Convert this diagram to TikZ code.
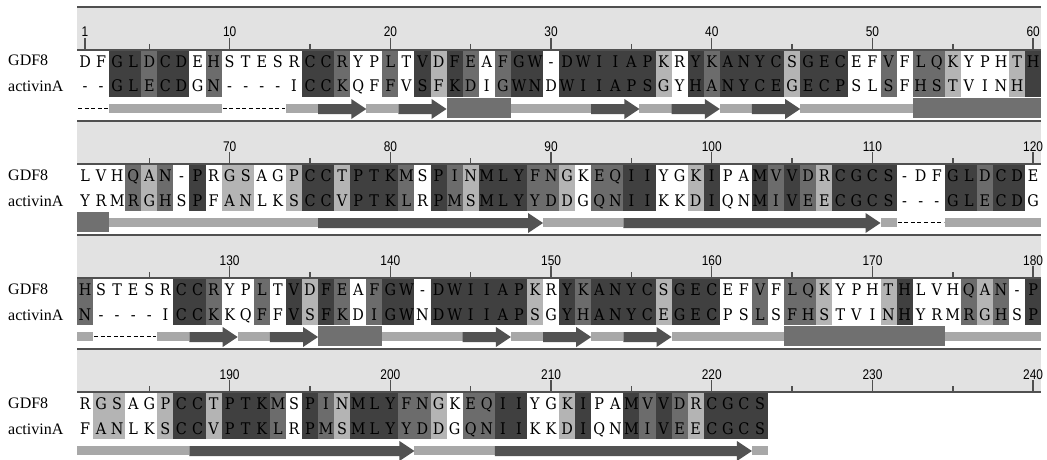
\documentclass[tikz,border=0pt]{standalone}
\usepackage{fontspec}
\usepackage{xstring}
\setmainfont{Liberation Serif}
\newfontfamily\resfont[FakeStretch=0.9]{DejaVu Serif}
\newfontfamily\numfont[FakeStretch=0.85]{Liberation Sans}

\definecolor{rulerbg}{HTML}{E2E2E2}
\definecolor{rulerln}{HTML}{505050}
\definecolor{lightsh}{HTML}{B4B4B4}
\definecolor{midsh}{HTML}{6C6C6C}
\definecolor{darksh}{HTML}{404040}
\definecolor{coilc}{HTML}{A8A8A8}
\definecolor{strandc}{HTML}{525252}
\definecolor{helixc}{HTML}{707070}

% sequences and conservation levels, 60 columns per block
\newcommand\gdfI{DFGLDCDEHSTESRCCRYPLTVDFEAFGW-DWIIAPKRYKANYCSGECEFVFLQKYPHTH}
\newcommand\actI{--GLECDGN----ICCKQFFVSFKDIGWNDWIIAPSGYHANYCEGECPSLSFHSTVINH}
\newcommand\shdI{003323302000003320020313202330333333103233331333002022100013}
\newcommand\gdfII{LVHQAN-PRGSAGPCCTPTKMSPINMLYFNGKEQIIYGKIPAMVVDRCGCS-DFGLDCDE}
\newcommand\actII{YRMRGHSPFANLKSCCVPTKLRPMSMLYYDDGQNIIKKDIQNMIVEECGCS---GLECDG}
\newcommand\shdII{000212030110013313332032133322102233001300323213333000332330}
\newcommand\gdfIII{HSTESRCCRYPLTVDFEAFGW-DWIIAPKRYKANYCSGECEFVFLQKYPHTHLVHQAN-P}
\newcommand\actIII{N----ICCKKQFFVSFKDIGWNDWIIAPSGYHANYCEGECPSLSFHSTVINHYRMRGHSP}
\newcommand\shdIII{200000332002031320233033333310323333133300202210001300021203}
\newcommand\gdfIV{RGSAGPCCTPTKMSPINMLYFNGKEQIIYGKIPAMVVDRCGCS}
\newcommand\actIV{FANLKSCCVPTKLRPMSMLYYDDGQNIIKKDIQNMIVEECGCS}
\newcommand\shdIV{0110013313332032133322102233001300323213333}

\begin{document}
\begin{tikzpicture}[
	x=1pt, y=-1pt,
	res/.style={font=\resfont\fontsize{16}{16}\selectfont, anchor=base, inner sep=0pt},
	seqname/.style={font=\fontsize{16}{16}\selectfont, anchor=base west, inner sep=0pt},
	num/.style={font=\numfont\fontsize{14}{14}\selectfont, anchor=base, inner sep=0pt},
	lvl0/.style={fill=white},
	lvl1/.style={fill=lightsh},
	lvl2/.style={fill=midsh},
	lvl3/.style={fill=darksh},
	rulertick/.style={draw=rulerln, line width=1.4pt},
	coil/.style={fill=coilc},
	strand/.style={fill=strandc},
	helix/.style={fill=helixc},
	gap/.style={draw=black, line width=1pt, dash pattern=on 4pt off 2.6pt}
]

\useasboundingbox[fill=white] (0,0) rectangle (1047,460);

% alignment blocks
\foreach \blk/\gdf/\act/\shd/\len in {0/\gdfI/\actI/\shdI/60, 1/\gdfII/\actII/\shdII/60,
		2/\gdfIII/\actIII/\shdIII/60, 3/\gdfIV/\actIV/\shdIV/43} {
	\pgfmathsetmacro\B{\blk*114}
	\fill[rulerbg] (77,{\B+7}) rectangle (1041,{\B+50});
	\draw[rulerln, line width=2.4pt] (77,{\B+7}) -- (1041,{\B+7});
	\draw[rulerln, line width=1.6pt] (77,{\B+50}) -- (1041,{\B+50});
	\foreach \c in {5,15,...,55}
		\draw[rulertick] ({77+(\c-0.5)*16.07},{\B+44}) -- ++(0,6);
	\foreach \c in {10,20,...,60} {
		\pgfmathtruncatemacro\n{\blk*60+\c}
		\draw[rulertick] ({77+(\c-0.5)*16.07},{\B+38}) -- ++(0,12);
		\node[num] (n\n) at ({77+(\c-0.5)*16.07},{\B+37}) {\n};
	}
	\node[seqname] (gdf\blk) at (8,{\B+66}) {GDF8};
	\node[seqname] (act\blk) at (8,{\B+92}) {activinA};
	\foreach \c in {1,...,\len} {
		\StrChar{\shd}{\c}[\lv]
		\fill[lvl\lv] ({77+(\c-1)*16.07},{\B+51}) rectangle ++(16.07,46);
		\StrChar{\gdf}{\c}[\ch]
		\node[res] (g\blk-\c) at ({77+(\c-0.5)*16.07},{\B+67}) {\ch};
		\StrChar{\act}{\c}[\ch]
		\node[res] (a\blk-\c) at ({77+(\c-0.5)*16.07},{\B+92}) {\ch};
	}
}
\draw[rulertick] (85,38) -- (85,50);
\node[num] (n1) at (85,37) {1};

% secondary structure
\foreach \blk/\a/\b in {0/3/9, 0/14/15, 0/19/20, 0/28/32, 0/36/37, 0/41/42, 0/46/52,
		1/3/15, 1/30/34, 1/51/51, 1/55/60,
		2/1/1, 2/6/7, 2/11/12, 2/20/24, 2/28/29, 2/33/34, 2/38/44, 2/55/60,
		3/1/7, 3/22/26, 3/43/43}
	\fill[coil] ({77+(\a-1)*16.07},{\blk*114+104}) rectangle ({77+\b*16.07},{\blk*114+113});
\foreach \blk/\a/\b in {0/24/27, 0/53/60, 1/1/2, 2/16/19, 2/45/54}
	\fill[helix] ({77+(\a-1)*16.07},{\blk*114+98}) rectangle ({77+\b*16.07},{\blk*114+118});
\foreach \blk/\a/\b in {0/16/18, 0/21/23, 0/33/35, 0/38/40, 0/43/45,
		1/16/29, 1/35/50,
		2/8/10, 2/13/15, 2/25/27, 2/30/32, 2/35/37,
		3/8/21, 3/27/42} {
	\pgfmathsetmacro\xa{77+(\a-1)*16.07}
	\pgfmathsetmacro\xb{77+\b*16.07}
	\pgfmathsetmacro\yb{\blk*114}
	\fill[strand] (\xa,{\yb+104}) -- ({\xb-15},{\yb+104}) -- ({\xb-15},{\yb+99})
		-- (\xb,{\yb+109}) -- ({\xb-15},{\yb+119}) -- ({\xb-15},{\yb+114}) -- (\xa,{\yb+114}) -- cycle;
}
\foreach \blk/\a/\b in {0/1/2, 0/10/13, 1/52/54, 2/2/5}
	\draw[gap] ({77+(\a-1)*16.07+1},{\blk*114+108.5}) -- ({77+\b*16.07-1},{\blk*114+108.5});

\end{tikzpicture}
\end{document}
